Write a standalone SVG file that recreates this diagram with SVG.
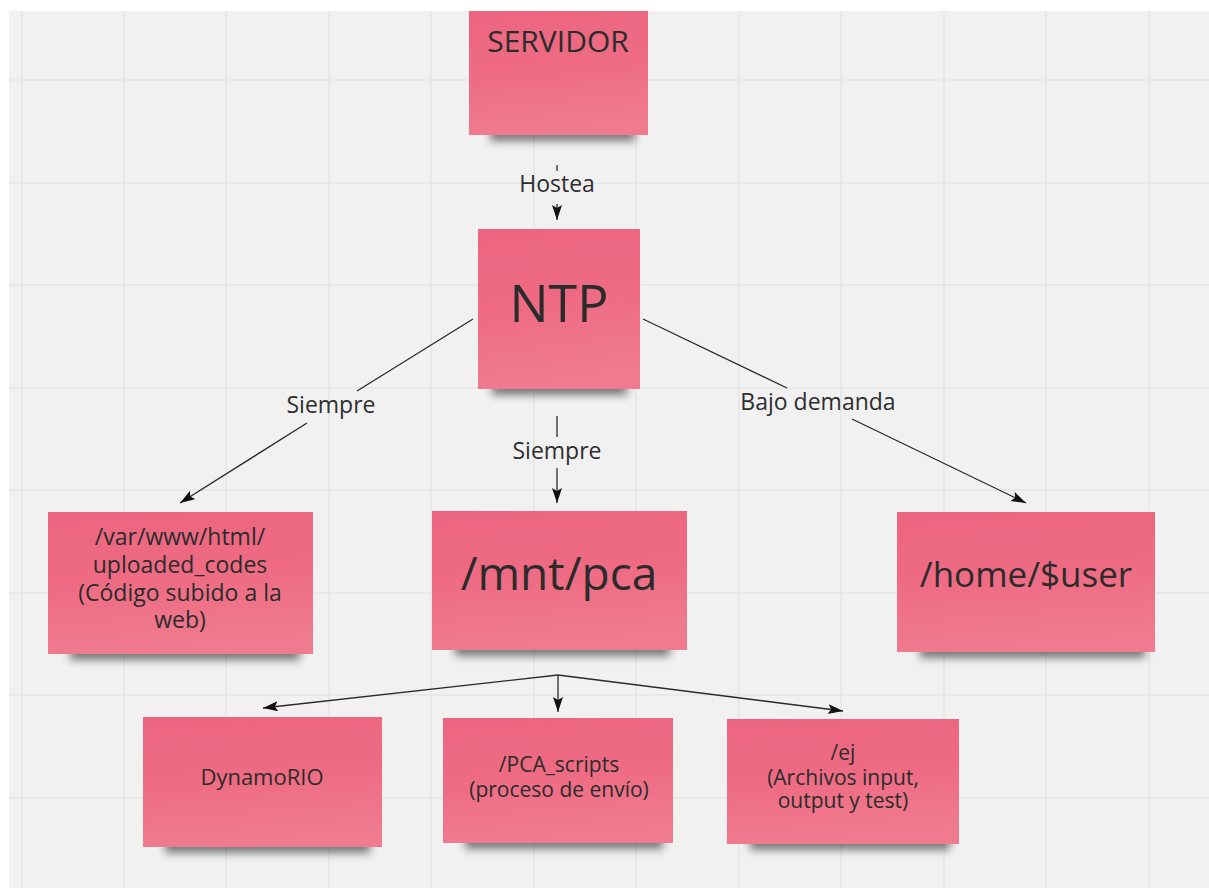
<svg xmlns="http://www.w3.org/2000/svg" width="1209" height="888" viewBox="0 0 1209 888">
<defs>
<style>
.grid line{stroke:#e4e4e4;stroke-width:1.5}
.note{fill:url(#pink)}
.shadow{fill:#000;opacity:.5;filter:url(#blur)}
.t{font-family:"Open Sans","Noto Sans",sans-serif;fill:#2b2b2b;text-anchor:middle}
.lbl{font-family:"Open Sans","Noto Sans",sans-serif;fill:#2e2e2e;text-anchor:middle;font-size:23px}
.c line{stroke:#2a2a2a;stroke-width:1.3;fill:none}
</style>
<linearGradient id="pink" x1="0" y1="0" x2="0.15" y2="1">
<stop offset="0" stop-color="#ec6580"/>
<stop offset="0.5" stop-color="#ee6b83"/>
<stop offset="1" stop-color="#f07b8e"/>
</linearGradient>
<filter id="blur" x="-20%" y="-100%" width="140%" height="300%"><feGaussianBlur stdDeviation="4"/></filter>
<marker id="ah" markerUnits="userSpaceOnUse" markerWidth="16" markerHeight="11" refX="15" refY="5" orient="auto">
<path d="M0,0 L15,5 L0,10 L3,5 z" fill="#111"/>
</marker>
</defs>
<rect width="1209" height="888" fill="#ffffff"/>
<rect x="9" y="11" width="1200" height="877" fill="#f1f1f1"/>
<g class="grid">
<line x1="22" y1="11" x2="22" y2="888"/><line x1="124" y1="11" x2="124" y2="888"/><line x1="226" y1="11" x2="226" y2="888"/><line x1="329" y1="11" x2="329" y2="888"/><line x1="431" y1="11" x2="431" y2="888"/><line x1="534" y1="11" x2="534" y2="888"/><line x1="636" y1="11" x2="636" y2="888"/><line x1="739" y1="11" x2="739" y2="888"/><line x1="841" y1="11" x2="841" y2="888"/><line x1="944" y1="11" x2="944" y2="888"/><line x1="1046" y1="11" x2="1046" y2="888"/><line x1="1149" y1="11" x2="1149" y2="888"/>
<line x1="9" y1="80" x2="1209" y2="80"/><line x1="9" y1="183" x2="1209" y2="183"/><line x1="9" y1="285" x2="1209" y2="285"/><line x1="9" y1="388" x2="1209" y2="388"/><line x1="9" y1="490" x2="1209" y2="490"/><line x1="9" y1="593" x2="1209" y2="593"/><line x1="9" y1="695" x2="1209" y2="695"/><line x1="9" y1="798" x2="1209" y2="798"/>
</g>

<g id="servidor">
<rect class="shadow" x="490" y="128" width="145" height="13"/>
<rect class="note" x="469" y="11" width="179" height="124"/>
<text class="t" x="558" y="52" font-size="30">SERVIDOR</text>
</g>
<g id="ntp">
<rect class="shadow" x="492" y="380" width="135" height="15"/>
<rect class="note" x="478" y="229" width="162" height="160"/>
<text class="t" x="559" y="322" font-size="52">NTP</text>
</g>
<g id="uploaded">
<rect class="shadow" x="70" y="645" width="230" height="15"/>
<rect class="note" x="48" y="512" width="265" height="142"/>
<text class="t" x="180" y="545" font-size="23">/var/www/html/</text>
<text class="t" x="180" y="573" font-size="23">uploaded_codes</text>
<text class="t" x="180" y="601" font-size="23">(Código subido a la</text>
<text class="t" x="180" y="628" font-size="23">web)</text>
</g>
<g id="mntpca">
<rect class="shadow" x="455" y="641" width="215" height="15"/>
<rect class="note" x="432" y="511" width="255" height="139"/>
<text class="t" x="559" y="590" font-size="46">/mnt/pca</text>
</g>
<g id="home">
<rect class="shadow" x="920" y="643" width="225" height="15"/>
<rect class="note" x="897" y="512" width="258" height="140"/>
<text class="t" x="1026" y="587" font-size="35">/home/$user</text>
</g>
<g id="dynamorio">
<rect class="shadow" x="165" y="838" width="205" height="15"/>
<rect class="note" x="143" y="717" width="239" height="130"/>
<text class="t" x="262" y="785" font-size="22">DynamoRIO</text>
</g>
<g id="pcascripts">
<rect class="shadow" x="465" y="834" width="198" height="15"/>
<rect class="note" x="443" y="718" width="230" height="125"/>
<text class="t" x="559" y="772" font-size="21">/PCA_scripts</text>
<text class="t" x="559" y="797" font-size="21">(proceso de envío)</text>
</g>
<g id="ej">
<rect class="shadow" x="750" y="835" width="200" height="15"/>
<rect class="note" x="727" y="719" width="232" height="125"/>
<text class="t" x="843" y="760" font-size="21">/ej</text>
<text class="t" x="843" y="785" font-size="21">(Archivos input,</text>
<text class="t" x="843" y="808" font-size="21">output y test)</text>
</g>

<g id="connectors" class="c">
<line x1="557" y1="165" x2="557" y2="171"/>
<line x1="557" y1="204" x2="557" y2="220" marker-end="url(#ah)"/>
<line x1="473" y1="319" x2="357" y2="391"/>
<line x1="307" y1="423" x2="180" y2="503" marker-end="url(#ah)"/>
<line x1="557" y1="416" x2="557" y2="437"/>
<line x1="557" y1="468" x2="557" y2="503" marker-end="url(#ah)"/>
<line x1="643" y1="319" x2="787" y2="388"/>
<line x1="852" y1="419" x2="1026" y2="503" marker-end="url(#ah)"/>
<line x1="558" y1="675" x2="263" y2="708" marker-end="url(#ah)"/>
<line x1="558" y1="675" x2="558" y2="712" marker-end="url(#ah)"/>
<line x1="558" y1="675" x2="843" y2="711" marker-end="url(#ah)"/>
</g>
<g id="labels">
<text class="lbl" x="557" y="192">Hostea</text>
<text class="lbl" x="331" y="413">Siempre</text>
<text class="lbl" x="557" y="459">Siempre</text>
<text class="lbl" x="818" y="410">Bajo demanda</text>
</g>
</svg>
